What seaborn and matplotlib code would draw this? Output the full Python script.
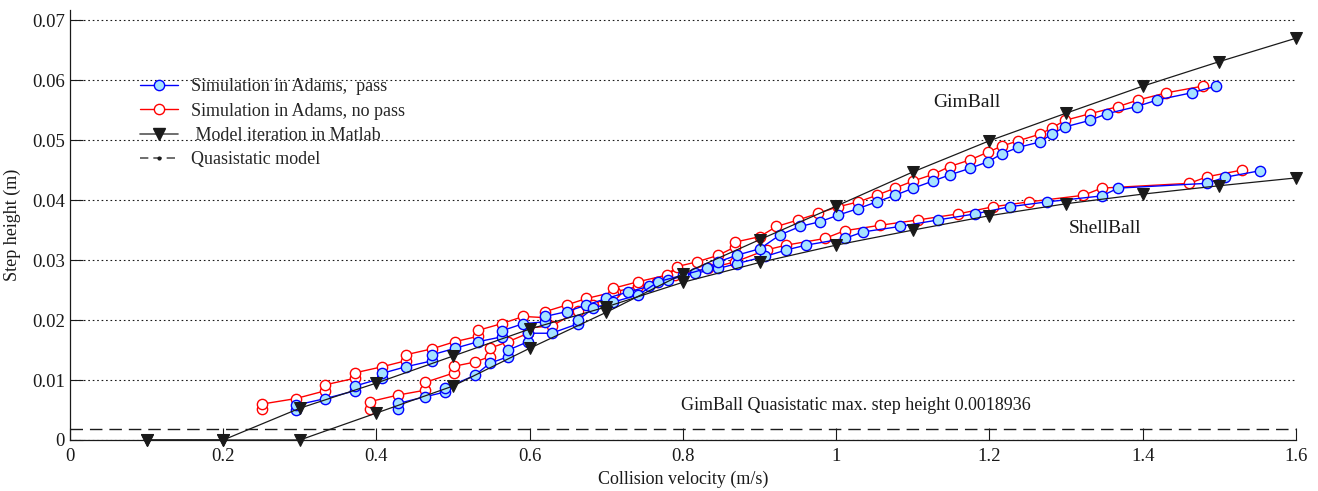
import numpy as np
import pandas as pd
import matplotlib
matplotlib.use("Agg")
import matplotlib.pyplot as plt
import seaborn as sns
from matplotlib.lines import Line2D
from matplotlib.ticker import FuncFormatter

# ---------------- data ----------------
shell_pass_v = [0.2945, 0.2945, 0.333, 0.372, 0.372, 0.407, 0.407, 0.438, 0.4725, 0.4725,
                0.5025, 0.533, 0.5634, 0.5634, 0.5916, 0.62, 0.62, 0.648, 0.674, 0.700,
                0.7287, 0.755, 0.781, 0.8157, 0.846, 0.870, 0.907, 0.935, 0.961, 1.011,
                1.035, 1.083, 1.133, 1.181, 1.2267, 1.2746, 1.3464, 1.368, 1.484, 1.507, 1.553]
shell_pass_h = [0.0050, 0.0058, 0.0069, 0.0082, 0.0090, 0.0103, 0.0111, 0.0122, 0.0132, 0.0142,
                0.0153, 0.0164, 0.0172, 0.0182, 0.0194, 0.0197, 0.0206, 0.0214, 0.0225, 0.0236,
                0.0247, 0.0256, 0.0267, 0.0278, 0.0286, 0.0294, 0.0306, 0.0317, 0.0325, 0.0336,
                0.0347, 0.0356, 0.0367, 0.0377, 0.0389, 0.0397, 0.0407, 0.0420, 0.0428, 0.0438, 0.0449]

shell_nopass_v = [0.251, 0.251, 0.2945, 0.333, 0.333, 0.372, 0.372, 0.407, 0.438, 0.438,
                  0.4725, 0.5025, 0.533, 0.533, 0.5634, 0.5916, 0.62, 0.62, 0.648, 0.674,
                  0.711, 0.7417, 0.7657, 0.790, 0.833, 0.868, 0.909, 0.935, 0.985, 1.011,
                  1.057, 1.107, 1.159, 1.205, 1.251, 1.3225, 1.3464, 1.461, 1.484, 1.529]
shell_nopass_h = [0.0051, 0.0060, 0.0069, 0.0082, 0.0092, 0.0103, 0.0112, 0.0122, 0.0132, 0.0142,
                  0.0152, 0.0164, 0.0173, 0.0183, 0.0194, 0.0206, 0.0204, 0.0214, 0.0225, 0.0236,
                  0.0247, 0.0256, 0.0264, 0.0275, 0.0286, 0.0297, 0.0317, 0.0325, 0.0336, 0.0349,
                  0.0358, 0.0367, 0.0377, 0.0389, 0.0397, 0.0408, 0.0420, 0.0428, 0.0439, 0.0450]

gim_pass_v = [0.4285, 0.4285, 0.4633, 0.4894, 0.4894, 0.5286, 0.548, 0.572, 0.572, 0.598,
              0.598, 0.6286, 0.6634, 0.6634, 0.683, 0.709, 0.7417, 0.768, 0.800, 0.831,
              0.846, 0.870, 0.9005, 0.9266, 0.9527, 0.9788, 1.0027, 1.0288, 1.0527, 1.0767,
              1.1006, 1.1267, 1.148, 1.1745, 1.198, 1.216, 1.2376, 1.266, 1.281, 1.2985,
              1.331, 1.353, 1.392, 1.419, 1.464, 1.4956]
gim_pass_h = [0.0051, 0.0061, 0.0072, 0.0080, 0.0086, 0.0108, 0.0128, 0.0139, 0.0150, 0.0164,
              0.0178, 0.0178, 0.0194, 0.0200, 0.0220, 0.0230, 0.0242, 0.0264, 0.0275, 0.0286,
              0.0297, 0.0308, 0.0319, 0.0342, 0.0356, 0.0364, 0.0375, 0.0386, 0.0397, 0.0408,
              0.0420, 0.0432, 0.0442, 0.0453, 0.0464, 0.0477, 0.0488, 0.0497, 0.0510, 0.0522,
              0.0533, 0.0544, 0.0556, 0.0567, 0.0579, 0.0590]

gim_nopass_v = [0.3915, 0.3915, 0.4285, 0.4633, 0.4633, 0.5015, 0.5015, 0.5286, 0.548, 0.548,
                0.572, 0.598, 0.598, 0.6286, 0.6634, 0.683, 0.709, 0.709, 0.7417, 0.779,
                0.7918, 0.818, 0.846, 0.868, 0.868, 0.900, 0.922, 0.9505, 0.9766, 1.0027,
                1.0288, 1.0527, 1.0767, 1.1006, 1.1267, 1.148, 1.1745, 1.198, 1.216, 1.2376,
                1.266, 1.281, 1.2985, 1.331, 1.368, 1.394, 1.431, 1.478]
gim_nopass_h = [0.0051, 0.0064, 0.0075, 0.0083, 0.0096, 0.0112, 0.0123, 0.0130, 0.0139, 0.0153,
                0.0164, 0.0178, 0.0187, 0.0190, 0.0215, 0.0225, 0.0244, 0.0253, 0.0264, 0.0275,
                0.0289, 0.0297, 0.0308, 0.0322, 0.0330, 0.0339, 0.0356, 0.0367, 0.0378, 0.0389,
                0.0397, 0.0408, 0.0420, 0.0432, 0.0443, 0.0456, 0.0467, 0.0480, 0.0490, 0.0499,
                0.0510, 0.0520, 0.0533, 0.0544, 0.0556, 0.0567, 0.0579, 0.0590]

shell_model_v = [0.1, 0.2, 0.3, 0.4, 0.5, 0.6, 0.7, 0.8, 0.9, 1.0, 1.1, 1.2, 1.3, 1.4, 1.5, 1.6]
shell_model_h = [0.0, 0.0, 0.0053, 0.0095, 0.0140, 0.0185, 0.0222, 0.0263, 0.0296, 0.0325,
                 0.0350, 0.0374, 0.0394, 0.0410, 0.0424, 0.0437]

gim_model_v = [0.1, 0.2, 0.3, 0.4, 0.5, 0.6, 0.7, 0.8, 0.9, 1.0, 1.1, 1.2, 1.3, 1.4, 1.5, 1.6]
gim_model_h = [0.0, 0.0, 0.0, 0.0045, 0.0090, 0.0153, 0.0213, 0.0277, 0.0334, 0.0390,
               0.0447, 0.0499, 0.0545, 0.0590, 0.0631, 0.0670]

quasi_v = [0.0, 1.6]
quasi_h = [0.0018936, 0.0018936]

legend_labels = ["Simulation in Adams,  pass", "Simulation in Adams, no pass",
                 " Model iteration in Matlab", "Quasistatic model"]
x_ticks = [0, 0.2, 0.4, 0.6, 0.8, 1.0, 1.2, 1.4, 1.6]
y_ticks = [0, 0.01, 0.02, 0.03, 0.04, 0.05, 0.06, 0.07]

# ---------------- style ----------------
sns.set_theme(style="white")
plt.rcParams['font.family'] = ['Liberation Serif', 'DejaVu Serif']

BLUE = "#0000FF"
LBLUE = "#A6E3FF"
RED = "#FF0000"

fig = plt.figure(figsize=(13.18, 4.91), dpi=100)
ax = fig.add_axes([0.0531, 0.1039, 0.9302, 0.8757])

ax.set_axisbelow(True)
ax.yaxis.grid(True, linestyle=(0, (1.5, 2.5)), color="k", linewidth=0.8)
ax.xaxis.grid(False)

circ_kw = dict(sort=False, estimator=None, marker="o", markersize=7.4, linewidth=1.0,
               markeredgewidth=1.0, legend=False, ax=ax)

for v, h in [(shell_nopass_v, shell_nopass_h), (gim_nopass_v, gim_nopass_h)]:
    sns.lineplot(x=v, y=h, color=RED, markerfacecolor="white", markeredgecolor=RED, **circ_kw)
for v, h in [(shell_pass_v, shell_pass_h), (gim_pass_v, gim_pass_h)]:
    sns.lineplot(x=v, y=h, color=BLUE, markerfacecolor=LBLUE, markeredgecolor=BLUE, **circ_kw)
for v, h in [(shell_model_v, shell_model_h), (gim_model_v, gim_model_h)]:
    sns.lineplot(x=v, y=h, sort=False, estimator=None, color="k", marker="v", markersize=8.5,
                 markerfacecolor="k", markeredgecolor="k", linewidth=0.9, legend=False, ax=ax,
                 clip_on=False)
sns.lineplot(x=quasi_v, y=quasi_h, sort=False, estimator=None, color="k", linewidth=1.0,
             linestyle=(0, (9, 5)), legend=False, ax=ax)

ax.set_xlim(0, 1.6)
ax.set_ylim(0, 0.0717)
ax.set_xticks(x_ticks)
ax.set_yticks(y_ticks)
ax.xaxis.set_major_formatter(FuncFormatter(lambda v, p: "%g" % round(v, 3)))
ax.yaxis.set_major_formatter(FuncFormatter(lambda v, p: "%g" % round(v, 3)))
ax.tick_params(axis="both", direction="in", length=9, width=0.8, colors="k",
               labelsize=13.5, bottom=True, left=True, top=False, right=False)
ax.tick_params(axis="x", pad=6)
for s in ["top", "right"]:
    ax.spines[s].set_visible(False)
for s in ["left", "bottom"]:
    ax.spines[s].set_color("k")
    ax.spines[s].set_linewidth(0.9)

ax.set_xlabel("Collision velocity (m/s)", fontsize=13, color="k", labelpad=4)
ax.set_ylabel("Step height (m)", fontsize=13, color="k", labelpad=8)

ax.text(1.171, 0.0562, "GimBall", fontsize=14, ha="center", va="center", color="k")
ax.text(1.351, 0.0353, "ShellBall", fontsize=14, ha="center", va="center", color="k")
ax.text(1.026, 0.0058, "GimBall Quasistatic max. step height 0.0018936", fontsize=13,
        ha="center", va="center", color="k")

handles = [
    Line2D([], [], color=BLUE, marker="o", markerfacecolor=LBLUE, markeredgecolor=BLUE,
           markersize=7.4, linewidth=1.0),
    Line2D([], [], color=RED, marker="o", markerfacecolor="white", markeredgecolor=RED,
           markersize=7.4, linewidth=1.0),
    Line2D([], [], color="#555555", marker="v", markerfacecolor="k", markeredgecolor="k",
           markersize=8.5, linewidth=1.2),
    Line2D([], [], color="#555555", marker=".", markerfacecolor="k", markeredgecolor="k",
           markersize=4, linewidth=1.2, linestyle=(0, (5, 3))),
]
ax.legend(handles, legend_labels, loc="upper left", bbox_to_anchor=(0.057, 0.841),
          frameon=False, fontsize=13, handlelength=2.1, handletextpad=0.75,
          labelspacing=0.4, borderpad=0, borderaxespad=0, numpoints=1)

fig.savefig("out.png", dpi=100)
